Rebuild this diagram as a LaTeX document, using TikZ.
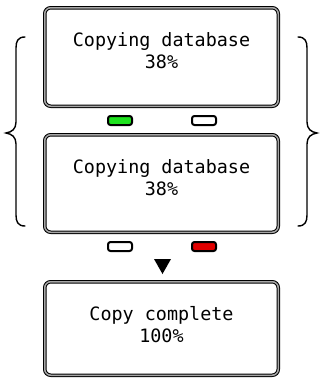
\documentclass[tikz,border=0pt]{standalone}
\usepackage{fontspec}
\newfontfamily\lcdfont{DejaVu Sans Mono}
\definecolor{ledgreen}{RGB}{30,225,30}
\definecolor{ledred}{RGB}{225,0,0}
\begin{document}
\begin{tikzpicture}[x=1pt,y=-1pt,
  lcd/.style={draw=black, line width=1pt, double=gray!70, double distance=1.5pt,
    rounded corners=6pt, minimum width=233.5pt, inner sep=0pt},
  lcdtext/.style={font=\lcdfont\fontsize{18.4}{22}\selectfont, align=center, inner sep=0pt},
  led/.style={draw=black, line width=2pt, rounded corners=2.5pt,
    minimum width=24pt, minimum height=9pt, inner sep=0pt},
  brace/.style={draw=black, line width=1.4pt, line cap=round}]
\useasboundingbox (0,0) rectangle (320,378);

% displays
\node[lcd, minimum height=98.5pt] (d1) at (161.5,57) {};
\node[lcd, minimum height=97.5pt] (d2) at (161.5,183.5) {};
\node[lcd, minimum height=93.5pt] (d3) at (161.5,328.5) {};

\node[lcdtext] (t1) at (161.5,51) {Copying database\\38\%};
\node[lcdtext] (t2) at (161.5,178) {Copying database\\38\%};
\node[lcdtext] (t3) at (161.5,325) {Copy complete\\100\%};

% LEDs
\node[led, fill=ledgreen] (l1a) at (120,120.5) {};
\node[led, fill=white] (l1b) at (204,120.5) {};
\node[led, fill=white] (l2a) at (120,246.5) {};
\node[led, fill=ledred] (l2b) at (204,246.5) {};

% arrow
\fill (154,259) -- (171,259) -- (162.5,274) -- cycle;

% braces
\draw[brace] (25,37) .. controls (18,37) and (16,41) .. (16,48) -- (16,122)
  .. controls (16,129) and (12,132) .. (6,133)
  .. controls (12,134) and (16,137) .. (16,144) -- (16,215)
  .. controls (16,222) and (18,226) .. (25,226);
\draw[brace] (298,37) .. controls (305,37) and (307,41) .. (307,48) -- (307,122)
  .. controls (307,129) and (311,132) .. (317,133)
  .. controls (311,134) and (307,137) .. (307,144) -- (307,215)
  .. controls (307,222) and (305,226) .. (298,226);
\end{tikzpicture}
\end{document}
